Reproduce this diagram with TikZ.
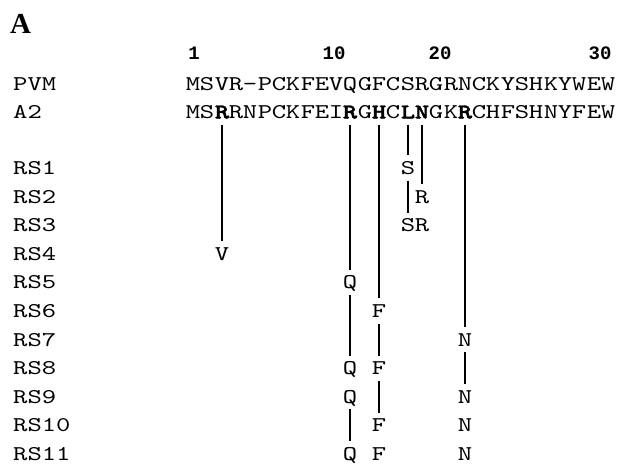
\documentclass[tikz,border=0pt]{standalone}
\usepackage{fontspec}
% typewriter faces for residues and row labels
\newfontfamily\seqfont[FakeStretch=1.3]{lmmono10-regular.otf}
\newfontfamily\seqboldfont[FakeStretch=1.3,FakeBold=1.6]{lmmonolt10-bold.otf}
\newfontfamily\numfont{Liberation Mono}
\newfontfamily\panelfont{Liberation Serif}
\newcommand\boldres[1]{{\seqboldfont #1}}

\tikzset{
  res/.style={font=\seqfont\fontsize{21}{21}\selectfont, anchor=base,
    inner xsep=0pt, inner ysep=6pt, text height=12.8pt, text depth=0pt},
  tag/.style={font=\seqfont\fontsize{21}{21}\selectfont, anchor=base west, inner sep=0pt},
  num/.style={font=\numfont\bfseries\fontsize{19}{19}\selectfont, anchor=base, inner sep=0pt},
  hit/.style={line width=2pt},
}

\begin{document}
\begin{tikzpicture}[x=1pt,y=-1pt]
  \path[use as bounding box, fill=white] (0,0) rectangle (618,467);

  % panel letter
  \node[font=\panelfont\bfseries\fontsize{29}{29}\selectfont, anchor=base west, inner sep=0pt]
    (panel) at (10,33) {A};

  % position ruler
  \node[num] (n1)  at (194,59) {1};
  \node[num] (n10) at (334,59) {10};
  \node[num] (n20) at (440,59) {20};
  \node[num] (n30) at (600,59) {30};

  % row labels
  \node[tag] (lpvm) at (13,90.4) {PVM};
  \node[tag] (la2)  at (13,118.4) {A2};
  \foreach \k in {1,...,11}
    \node[tag] (lrs\k) at (13,{174.4+28.6*(\k-1)}) {RS\k};

  % reference sequences, one residue per column (columns on whole points)
  \foreach \c [count=\i] in {M,S,V,R,-,P,C,K,F,E,V,Q,G,F,C,S,R,G,R,N,C,K,Y,S,H,K,Y,W,E,W}
    \node[res] (p\i) at ({round(178.85+14.3*\i)},90.4) {\c};
  \foreach \c [count=\i] in {M,S,{\boldres{R}},R,N,P,C,K,F,E,I,{\boldres{R}},G,{\boldres{H}},C,
      {\boldres{L}},{\boldres{N}},G,K,{\boldres{R}},C,H,F,S,H,N,Y,F,E,W}
    \node[res] (a\i) at ({round(178.85+14.3*\i)},118.4) {\c};

  % substitutions found in the resistant lines
  \newcommand\subst[4]{\node[res] (#1) at ({round(178.85+14.3*#2)},{174.4+28.6*(#3-1)}) {#4};}
  \subst{s1}{16}{1}{S}
  \subst{r2}{17}{2}{R}
  \subst{s3}{16}{3}{S}
  \subst{r3}{17}{3}{R}
  \subst{v4}{3}{4}{V}
  \subst{q5}{12}{5}{Q}
  \subst{f6}{14}{6}{F}
  \subst{n7}{20}{7}{N}
  \subst{q8}{12}{8}{Q}
  \subst{f8}{14}{8}{F}
  \subst{q9}{12}{9}{Q}
  \subst{n9}{20}{9}{N}
  \subst{f10}{14}{10}{F}
  \subst{n10}{20}{10}{N}
  \subst{q11}{12}{11}{Q}
  \subst{f11}{14}{11}{F}
  \subst{n11}{20}{11}{N}

  % connecting strokes
  \draw[hit] (a3) -- (v4);
  \draw[hit] (a12) -- (q5);
  \draw[hit] (q5) -- (q8);
  \draw[hit] (q9) -- (q11);
  \draw[hit] (a14) -- (f6);
  \draw[hit] (f6) -- (f8);
  \draw[hit] (f8) -- (f10);
  \draw[hit] (a16) -- (s1);
  \draw[hit] (s1) -- (s3);
  \draw[hit] (a17) -- (r2);
  \draw[hit] (a20) -- (n7);
  \draw[hit] (n7) -- (n9);
\end{tikzpicture}
\end{document}
